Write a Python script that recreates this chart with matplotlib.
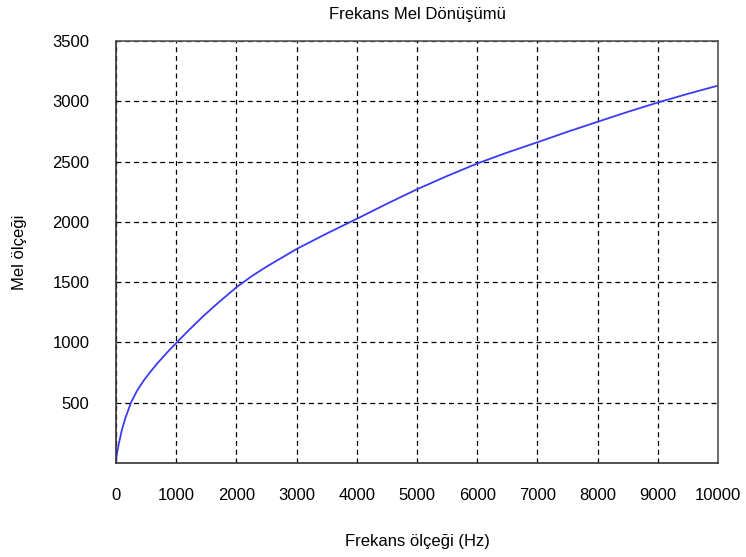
import matplotlib
matplotlib.use("Agg")
import matplotlib.pyplot as plt

# values
frekans = [0, 10, 25, 47, 91, 150, 252, 350, 462, 570, 684, 850, 1000, 1200, 1450,
           1700, 2000, 2250, 2500, 3000, 3500, 4000, 4500, 5000, 5500, 6000, 6500,
           7000, 7500, 8000, 8500, 9000, 9500, 10000]
mel = [0, 60, 105, 160, 260, 365, 505, 600, 685, 755, 825, 917, 995, 1097, 1218,
       1330, 1457, 1548, 1628, 1775, 1903, 2025, 2150, 2270, 2380, 2484, 2575,
       2660, 2747, 2830, 2912, 2990, 3062, 3130]

x_ticks = list(range(0, 10001, 1000))
y_ticks = list(range(500, 3501, 500))

plt.rcParams['font.family'] = ['Liberation Sans', 'DejaVu Sans']

fig = plt.figure(figsize=(7.46, 5.57), dpi=100)
ax = fig.add_axes([0.1555, 0.1688, 0.8070, 0.7576])

ax.plot(frekans, mel, color='#3b3bf5', linewidth=1.3)

ax.set_xlim(0, 10000)
ax.set_ylim(0, 3500)
ax.set_xticks(x_ticks)
ax.set_yticks(y_ticks)
ax.tick_params(axis='x', length=0, pad=18, labelsize=12)
ax.tick_params(axis='y', length=0, pad=19, labelsize=12)

ax.grid(True, color='black', linestyle=(0, (4, 3)), linewidth=0.9)
for s in ax.spines.values():
    s.set_color('#555555')
    s.set_linewidth(1.2)
ax.spines['left'].set_color('#333333')
ax.spines['bottom'].set_color('#333333')

ax.set_title('Frekans Mel Dönüşümü', fontsize=12, pad=16)
ax.set_xlabel('Frekans ölçeği (Hz)', fontsize=12, labelpad=22)
ax.set_ylabel('Mel ölçeği', fontsize=12, labelpad=18)

fig.savefig('out.png', dpi=100)
